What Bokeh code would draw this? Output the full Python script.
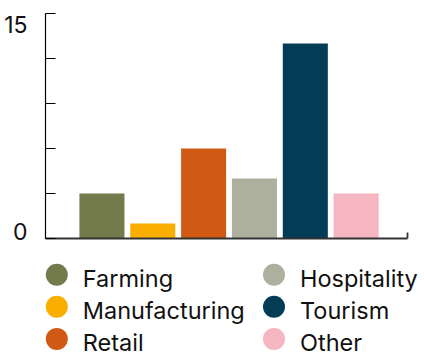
from bokeh.plotting import figure
from bokeh.models import Range1d, FixedTicker, LinearAxis, ColumnDataSource
from bokeh.embed import file_html
from bokeh.resources import INLINE
from bokeh.core.properties import value

categories = ["Farming", "Manufacturing", "Retail", "Hospitality", "Tourism", "Other"]
values = [3, 1, 6, 4, 13, 3]
colors = ["#737B4C", "#F9AE00", "#D05A14", "#ADB09F", "#023D55", "#F6B6C1"]
y_ticks = [0, 3, 6, 9, 12, 15]
y_tick_labels = ["0", "15"]

FONT = "Inter"
x_start, x_end = -1.11, 6.01
y_start, y_end = 0, 15

src = ColumnDataSource(dict(x=list(range(len(categories))), top=values,
                            color=colors, cat=categories))

p = figure(width=424, height=250, output_backend="svg", toolbar_location=None,
           x_range=Range1d(x_start, x_end), y_range=Range1d(y_start, y_end),
           min_border_left=45, min_border_right=17, min_border_top=13,
           min_border_bottom=12)
p.outline_line_color = None
p.grid.visible = False
p.background_fill_color = "white"
p.border_fill_color = "white"

p.vbar(x="x", top="top", bottom=0, width=0.886, color="color", line_color=None, source=src)

# y axis: ticks only
ya = p.yaxis[0]
ya.ticker = FixedTicker(ticks=y_ticks)
ya.major_tick_in = 10
ya.major_tick_out = 0
ya.minor_tick_line_color = None
ya.major_label_overrides = {t: "" for t in y_ticks}
ya.major_label_standoff = 0
ya.axis_line_color = "black"
ya.major_tick_line_color = "black"
ya.axis_line_width = 1.2
ya.major_tick_line_width = 1.2

# second y axis carrying the end labels, flush with the axis ends
px_per_unit = 225 / (y_end - y_start)
lab_pos = [y_start + 7.5 / px_per_unit, y_end - 10.5 / px_per_unit]
lab_pos = [round(v, 3) for v in lab_pos]
ya2 = LinearAxis(ticker=FixedTicker(ticks=lab_pos))
ya2.axis_line_color = None
ya2.major_tick_line_color = None
ya2.minor_tick_line_color = None
ya2.major_label_overrides = dict(zip(lab_pos, y_tick_labels))
ya2.major_label_standoff = 12
ya2.major_label_text_font = FONT
ya2.major_label_text_font_size = "23px"
ya2.major_label_text_color = "#111111"
p.add_layout(ya2, "left")

# x axis
xa = p.xaxis[0]
xa.ticker = FixedTicker(ticks=[x_end])
xa.major_tick_in = 6
xa.major_tick_out = 0
xa.minor_tick_line_color = None
xa.major_label_overrides = {x_end: ""}
xa.major_label_standoff = 0
xa.axis_line_color = "#333333"
xa.major_tick_line_color = "#333333"
xa.axis_line_width = 1.8
xa.major_tick_line_width = 1.8

# legend figure (no axes), coordinates in page pixels
leg = figure(width=424, height=102, output_backend="svg", toolbar_location=None,
             x_range=Range1d(0, 424), y_range=Range1d(102, 0),
             x_axis_location=None, y_axis_location=None, min_border=0)
leg.grid.visible = False
leg.outline_line_color = None
leg.background_fill_color = "white"
leg.border_fill_color = "white"

col_x = [56.3, 273.5]
row_y0, row_dy = 24.2, 32.1
lx = [col_x[i // 3] for i in range(len(categories))]
ly = [row_y0 + row_dy * (i % 3) for i in range(len(categories))]
lsrc = ColumnDataSource(dict(x=lx, y=ly, tx=[v + 26 for v in lx],
                             ty=[v + 3.8 for v in ly], color=colors, cat=categories))
leg.scatter(x="x", y="y", size=22, color="color", line_color=None, source=lsrc)
leg.text(x="tx", y="ty", text="cat", text_font=value(FONT), text_font_size="23.5px",
         text_baseline="middle", text_color="#111111", source=lsrc)

open("out.html", "w").write(file_html([p, leg], INLINE))
